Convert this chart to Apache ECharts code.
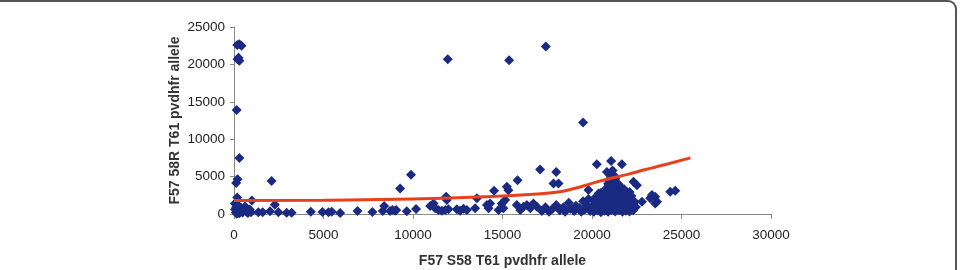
<!DOCTYPE html>
<html>
<head>
<meta charset="utf-8">
<script src="https://cdn.jsdelivr.net/npm/echarts@6/dist/echarts.min.js"></script>
<style>
  html, body { margin: 0; padding: 0; background: #fff; }
  #frame {
    position: absolute; left: 0; top: 0; width: 957px; height: 270px;
    border-top: 2px solid #555; border-right: 2px solid #555;
    border-top-right-radius: 9px; box-sizing: border-box;
  }
  #chart { position: absolute; left: 0; top: 0; width: 961px; height: 270px; }
</style>
</head>
<body>
<div id="frame"></div>
<div id="chart"></div>
<script>
// x: F57 S58 T61 allele, y: F57 58R T61 allele
var edgePts = [
  [180, 22600], [420, 22500], [300, 22700], [250, 20900], [300, 20500], [200, 20700],
  [150, 13900], [300, 7500], [200, 4650], [120, 4150], [180, 2200],
  [50, 1400], [120, 900], [200, 600], [260, 1100], [330, 300], [400, 800], [480, 200],
  [550, 500], [620, 1000], [700, 300], [780, 150], [880, 600], [950, 250], [100, 200],
  [160, 50], [300, 100], [420, 400], [60, 600], [1000, 1800], [2100, 4400], [2280, 1250]
];
var lowRow = [
  [1360, 220], [1600, 220], [2010, 360], [2480, 220], [2940, 180], [3220, 180],
  [4290, 310], [4940, 270], [5280, 220], [5460, 310], [5930, 130], [6900, 400],
  [7730, 270], [8390, 1060], [8310, 400], [8720, 400], [8850, 530], [9000, 440],
  [9060, 530], [9650, 360], [10170, 670]
];
var midPts = [
  [9280, 3400], [9890, 5250], [10960, 1060], [11150, 1420], [11240, 760], [11420, 530],
  [11610, 440], [11800, 530], [11890, 1860], [11980, 620], [11850, 2300], [12450, 620],
  [12630, 440], [12820, 710], [13010, 530], [13470, 760], [13570, 2090], [14130, 1200],
  [14220, 760], [14310, 1420], [14530, 3100], [14780, 530], [14960, 1420], [15050, 760],
  [15150, 1860], [15240, 3630], [15330, 3190], [15840, 4520], [15800, 1200], [15990, 530],
  [16170, 970], [16360, 1200], [16550, 760], [16730, 1420], [16920, 970], [17100, 5940],
  [18000, 5630], [17850, 4080], [18130, 4080]
];
var farPts = [
  [11940, 20700], [15370, 20550], [17420, 22400], [19500, 12240]
];
var risePts = [
  [17200, 400], [17400, 900], [17600, 300], [17800, 700], [18000, 1200], [18200, 500],
  [18400, 900], [18500, 300], [18700, 1500], [18800, 700], [19000, 400], [19100, 1100],
  [19300, 800], [19400, 300], [19500, 1700], [19600, 600], [19700, 1200], [19800, 2000],
  [19900, 400], [19800, 3200], [20370, 2750]
];
var clusterPts = [
  [20100, 300], [20300, 500], [20500, 250], [20700, 450], [20900, 300], [21100, 550],
  [21300, 350], [21500, 500], [21700, 300], [21900, 450], [22100, 350], [22300, 500],
  [20000, 1000], [20250, 1150], [20450, 900], [20650, 1200], [20850, 950], [21050, 1100],
  [21250, 900], [21450, 1200], [21650, 1000], [21850, 1150], [22050, 900], [22250, 1100], [22450, 950],
  [20150, 1650], [20350, 1500], [20550, 1750], [20750, 1550], [20950, 1800], [21150, 1600],
  [21350, 1750], [21550, 1500], [21750, 1700], [21950, 1550], [22150, 1800], [22400, 1600],
  [20200, 2250], [20400, 2100], [20600, 2350], [20800, 2150], [21000, 2400], [21200, 2200],
  [21400, 2350], [21600, 2100], [21800, 2300], [22000, 2150], [22200, 2400],
  [20500, 2850], [20700, 2700], [20900, 3000], [21100, 2800], [21300, 2950], [21500, 2750],
  [21700, 2900], [21900, 2700], [22100, 2950],
  [20800, 3450], [21000, 3300], [21200, 3600], [21400, 3350], [21600, 3500], [21800, 3300],
  [20900, 4050], [21100, 3900], [21300, 4200], [21500, 3950],
  [21100, 4800], [21300, 4700], [21200, 5200], [21150, 5800],
  [20270, 6650], [21070, 7090], [21670, 6650], [20830, 5630], [21020, 5190], [20920, 4520],
  [22320, 4300], [22510, 3860]
];
var tailPts = [
  [22790, 1640], [23250, 2090], [23530, 2300], [23630, 1640], [23350, 2530], [23530, 1420],
  [24370, 2970], [24650, 3100]
];
var trendX = [0, 5000, 10000, 14000, 16500, 18000, 19000, 20000, 21000, 22000, 23000, 24000, 25500];
var trendY = [1800, 1850, 2000, 2300, 2600, 2900, 3400, 4100, 4750, 5300, 5950, 6550, 7500];

var xName = 'F57 S58 T61 pvdhfr allele';
var yName = 'F57 58R T61 pvdhfr allele';

var points = [].concat(edgePts, lowRow, midPts, farPts, risePts, clusterPts, tailPts);
var trend = trendX.map(function (x, i) { return [x, trendY[i]]; });

var chart = echarts.init(document.getElementById('chart'));
var plain = function (v) { return String(v); };
var axisText = { color: '#222', fontFamily: 'Liberation Sans', fontSize: 13.5, formatter: plain };
var nameText = { color: '#333', fontFamily: 'Liberation Sans', fontSize: 14, fontWeight: 'bold' };
chart.setOption({
  animation: false,
  grid: { left: 234, right: 190, top: 27, bottom: 56, containLabel: false, outerBoundsMode: 'none' },
  xAxis: {
    type: 'value', min: 0, max: 30000, interval: 5000,
    name: xName, nameLocation: 'middle', nameGap: 40, nameTextStyle: nameText,
    nameMoveOverlap: false,
    axisLine: { lineStyle: { color: '#888' } },
    axisTick: { length: 5, lineStyle: { color: '#888' } },
    axisLabel: Object.assign({ margin: 14 }, axisText),
    splitLine: { show: false }
  },
  yAxis: {
    type: 'value', min: 0, max: 25000, interval: 5000,
    name: yName, nameLocation: 'middle', nameGap: 52, nameTextStyle: nameText,
    nameMoveOverlap: false,
    axisLine: { show: true, lineStyle: { color: '#888' } },
    axisTick: { show: true, length: 4, lineStyle: { color: '#888' } },
    axisLabel: Object.assign({ margin: 9 }, axisText),
    splitLine: { show: false }
  },
  series: [
    {
      type: 'scatter', data: points, symbol: 'diamond', symbolSize: 10,
      itemStyle: { color: '#1a2a82', opacity: 1 }
    },
    {
      type: 'line', data: trend, smooth: true, showSymbol: false,
      lineStyle: { color: '#e8401c', width: 3 }
    }
  ]
});
</script>
</body>
</html>
